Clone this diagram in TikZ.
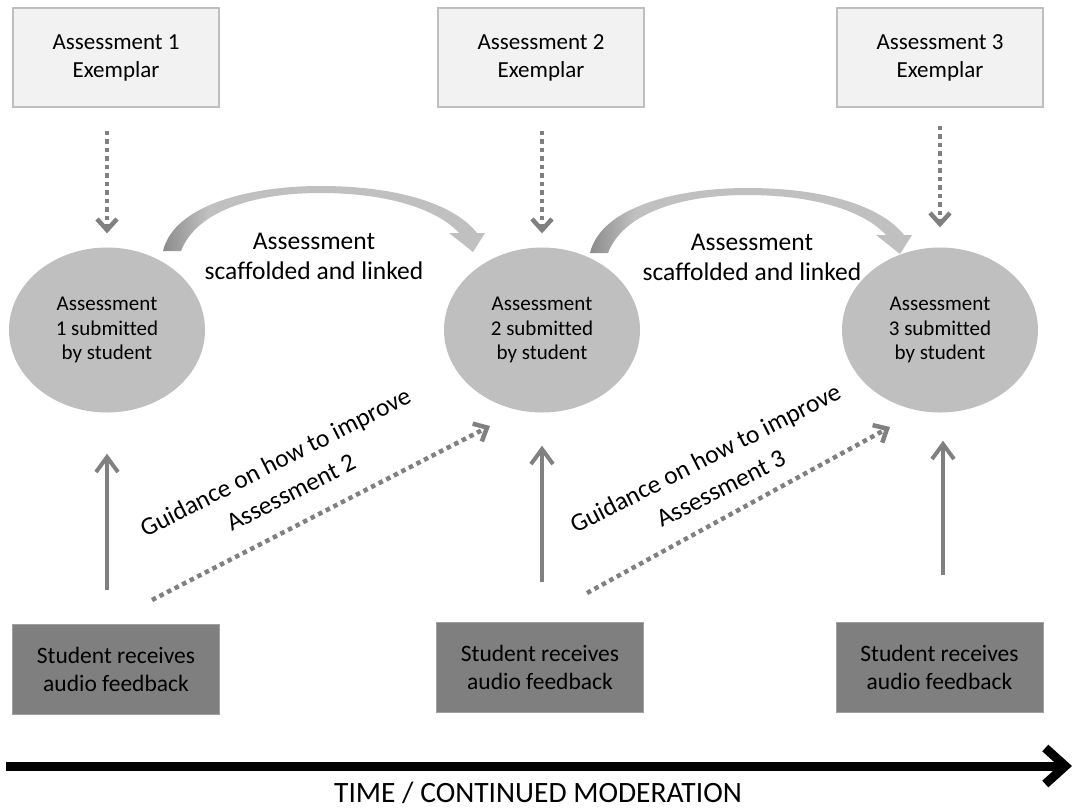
\documentclass[tikz,border=0pt]{standalone}
\usepackage{fontspec}
\setmainfont{Carlito}[Ligatures=NoCommon]
\usetikzlibrary{arrows.meta,shapes.geometric}
\definecolor{exfill}{HTML}{F2F2F2}
\definecolor{exdraw}{HTML}{BFBFBF}
\definecolor{subfill}{HTML}{BFBFBF}
\definecolor{fbfill}{HTML}{7F7F7F}
\definecolor{fbdraw}{HTML}{A0A0A0}
\definecolor{arr}{HTML}{808080}
\definecolor{cdark}{HTML}{8C8C8C}
\definecolor{clight}{HTML}{C0C0C0}
\pgfdeclarehorizontalshading{curvshade}{100bp}{color(0bp)=(cdark); color(25bp)=(cdark); color(32bp)=(clight); color(100bp)=(clight)}
\begin{document}
\begin{tikzpicture}[x=1pt,y=-1pt,
  exbox/.style={draw=exdraw, line width=1.5pt, fill=exfill, minimum width=206pt, minimum height=99pt, inner sep=0pt, align=center, font=\fontsize{23}{28}\selectfont},
  subell/.style={ellipse, fill=subfill, minimum width=196pt, minimum height=165pt, inner sep=0pt, align=center, font=\fontsize{21}{24.5}\selectfont},
  fbbox/.style={draw=fbdraw, line width=1pt, fill=fbfill, minimum width=207pt, minimum height=90pt, inner sep=0pt, align=center, font=\fontsize{23.5}{28}\selectfont},
  dotarrow/.style={draw=arr, line width=4.5pt, dash pattern=on 4.5pt off 4pt, -{Straight Barb[length=11pt,width=20pt]}},
  solidarrow/.style={draw=arr, line width=4pt, -{Straight Barb[length=15pt,width=22pt]}},
  bigtext/.style={align=center, font=\fontsize{25.5}{30}\selectfont},
  guide/.style={align=center, rotate=27, font=\fontsize{25.5}{34}\selectfont},
  curvarrow/.style={shading=curvshade}
]
\useasboundingbox (0,0) rectangle (1077,809);

% curved arrows
\foreach \dx/\dy in {0/0, 427/2}{
  \begin{scope}[shift={(\dx,\dy)}]
  \shade[curvarrow] (163,251) .. controls (174,205) and (250,186) .. (320,186)
     .. controls (400,186) and (455,205) .. (477,233) -- (485,233) -- (473,252) -- (449,233) -- (459,233)
     .. controls (438,210) and (390,193) .. (320,193)
     .. controls (252,193) and (196,212) .. (181,251) -- cycle;
  \end{scope}
}

% nodes
\node[exbox] (ex1) at (116,57.5) {Assessment 1\\Exemplar};
\node[exbox] (ex2) at (541,57.5) {Assessment 2\\Exemplar};
\node[exbox] (ex3) at (940,57.5) {Assessment 3\\Exemplar};

\node[subell] (sub1) at (107,330) {Assessment\\1 submitted\\by student};
\node[subell] (sub2) at (542,330) {Assessment\\2 submitted\\by student};
\node[subell] (sub3) at (940,330) {Assessment\\3 submitted\\by student};

\node[fbbox] (fb1) at (116,669) {Student receives\\audio feedback};
\node[fbbox] (fb2) at (540,667) {Student receives\\audio feedback};
\node[fbbox] (fb3) at (939.5,667) {Student receives\\audio feedback};

\node[bigtext] (sc1) at (314,256) {Assessment\\scaffolded and linked};
\node[bigtext] (sc2) at (752,257) {Assessment\\scaffolded and linked};

\node[guide] (gd1) at (283,477) {Guidance on how to improve\\Assessment 2};
\node[guide] (gd2) at (713,473) {Guidance on how to improve\\Assessment 3};

% dotted exemplar arrows
\draw[dotarrow, shorten <=23pt, shorten >=14pt] (sub1.north |- ex1.south) -- (sub1.north);
\draw[dotarrow, shorten <=23pt, shorten >=14pt] (sub2.north |- ex2.south) -- (sub2.north);
\draw[dotarrow, shorten <=18pt, shorten >=20pt] (sub3.north |- ex3.south) -- (sub3.north);

% feedback arrows
\draw[solidarrow, shorten <=34pt, shorten >=41pt] (sub1.south |- fb1.north) -- (sub1.south);
\draw[solidarrow, shorten <=40pt, shorten >=33pt] (sub2.south |- fb2.north) -- (sub2.south);
\draw[solidarrow, shorten <=47pt, shorten >=28pt] ([xshift=3pt]sub3.south |- fb3.north) -- ([xshift=3pt]sub3.south);

% guidance arrows
\coordinate (g1s) at (152,600);
\coordinate (g1e) at (490,426);
\coordinate (g2s) at (587,593);
\coordinate (g2e) at (890,427);
\draw[dotarrow] (g1s) -- (g1e);
\draw[dotarrow] (g2s) -- (g2e);

% time axis
\coordinate (ts) at (6,766);
\coordinate (te) at (1072,766);
\draw[line width=9pt, -{Straight Barb[length=20pt,width=36pt]}] (ts) -- (te);
\node[font=\fontsize{29.5}{34}\selectfont] (tl) at (538,793) {TIME / CONTINUED MODERATION};
\end{tikzpicture}
\end{document}
